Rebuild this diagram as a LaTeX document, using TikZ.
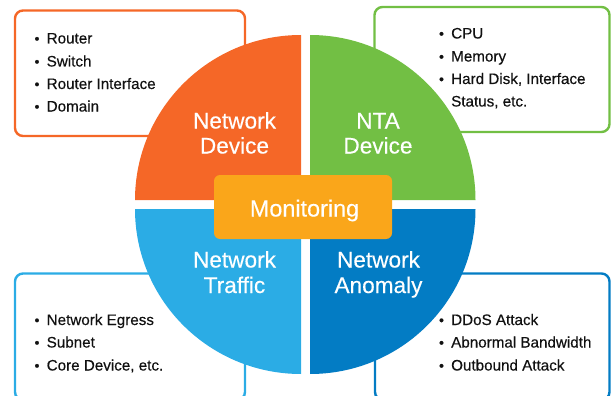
\documentclass[tikz,border=0pt]{standalone}
\usepackage{fontspec}
\setmainfont{Liberation Sans}
\newfontfamily\itemfont[FakeBold=0.35]{Liberation Sans}
\newfontfamily\titlefont[FakeBold=0.3]{Liberation Sans}
\definecolor{corange}{HTML}{F56727}
\definecolor{cgreen}{HTML}{72BF44}
\definecolor{clight}{HTML}{2BACE5}
\definecolor{cdark}{HTML}{037CC4}
\definecolor{cyellow}{HTML}{FAA61A}
\definecolor{ctext}{HTML}{111111}
\tikzset{
  infobox/.style={line width=2.4pt,rounded corners=8pt,fill=white},
  item/.style={anchor=base west,inner sep=0pt,text=ctext,font=\itemfont\fontsize{15.2}{18}\selectfont},
  bul/.style={anchor=base,inner sep=0pt,text=ctext,font=\itemfont\fontsize{14}{16}\selectfont},
  title/.style={anchor=base,inner sep=0pt,text=white,font=\titlefont\fontsize{22.6}{26}\selectfont},
  montitle/.style={anchor=base,inner sep=0pt,text=white,font=\titlefont\fontsize{23.4}{26}\selectfont},
}
\begin{document}
\begin{tikzpicture}[x=1pt,y=-1pt]
\useasboundingbox (0,0) rectangle (611,396);
\clip (0,0) rectangle (611,396);
% info boxes
\draw[infobox,draw=corange] (15,10.5) rectangle (245,136);
\draw[infobox,draw=cgreen] (374.5,7) rectangle (609.5,132);
\draw[infobox,draw=clight] (15,273.5) rectangle (245,400);
\draw[infobox,draw=cdark] (375,273.5) rectangle (609.5,400);
% quadrants
\fill[corange] (301,200) -- (135,200) arc[start angle=180,end angle=90,x radius=166,y radius=-165] -- cycle;
\fill[cgreen] (310,200) -- (310,35) arc[start angle=90,end angle=0,x radius=165.5,y radius=-165] -- cycle;
\fill[clight] (301,209) -- (135,209) arc[start angle=180,end angle=270,x radius=166,y radius=-165] -- cycle;
\fill[cdark] (310,209) -- (475.5,209) arc[start angle=0,end angle=-90,x radius=165.5,y radius=-165] -- cycle;
% centre
\fill[cyellow,rounded corners=6pt] (214,175) rectangle (392,239);
\node[montitle] (mon) at (304.5,216.5) {Monitoring};
% titles
\node[title] (nd1) at (234.5,128.5) {Network};
\node[title] (nd2) at (234.5,153.5) {Device};
\node[title] (nta1) at (378,128.5) {NTA};
\node[title] (nta2) at (378,153.5) {Device};
\node[title] (nt1) at (234.5,267.5) {Network};
\node[title] (nt2) at (234.5,293) {Traffic};
\node[title] (na1) at (378.5,267.5) {Network};
\node[title] (na2) at (378.5,293) {Anomaly};
% orange list
\node[bul] (b1) at (37,43.5) {•}; \node[item] (t1) at (46.5,43.5) {Router};
\node[bul] (b2) at (37,66.5) {•}; \node[item] (t2) at (46.5,66.5) {Switch};
\node[bul] (b3) at (37,89) {•}; \node[item] (t3) at (46.5,89) {Router Interface};
\node[bul] (b4) at (37,111.5) {•}; \node[item] (t4) at (46.5,111.5) {Domain};
% green list
\node[bul] (b5) at (441.5,38.5) {•}; \node[item] (t5) at (451,38.5) {CPU};
\node[bul] (b6) at (441.5,61.5) {•}; \node[item] (t6) at (451,61.5) {Memory};
\node[bul] (b7) at (441.5,84) {•}; \node[item] (t7) at (451,84) {Hard Disk, Interface};
\node[item] (t8) at (451,106.5) {Status, etc.};
% light blue list
\node[bul] (b9) at (37,325) {•}; \node[item] (t9) at (46.5,325) {Network Egress};
\node[bul] (b10) at (37,347.5) {•}; \node[item] (t10) at (46.5,347.5) {Subnet};
\node[bul] (b11) at (37,370.5) {•}; \node[item] (t11) at (46.5,370.5) {Core Device, etc.};
% dark blue list
\node[bul] (b12) at (441.5,325) {•}; \node[item] (t12) at (451,325) {DDoS Attack};
\node[bul] (b13) at (441.5,347.5) {•}; \node[item] (t13) at (451,347.5) {Abnormal Bandwidth};
\node[bul] (b14) at (441.5,370.5) {•}; \node[item] (t14) at (451,370.5) {Outbound Attack};
\end{tikzpicture}
\end{document}
